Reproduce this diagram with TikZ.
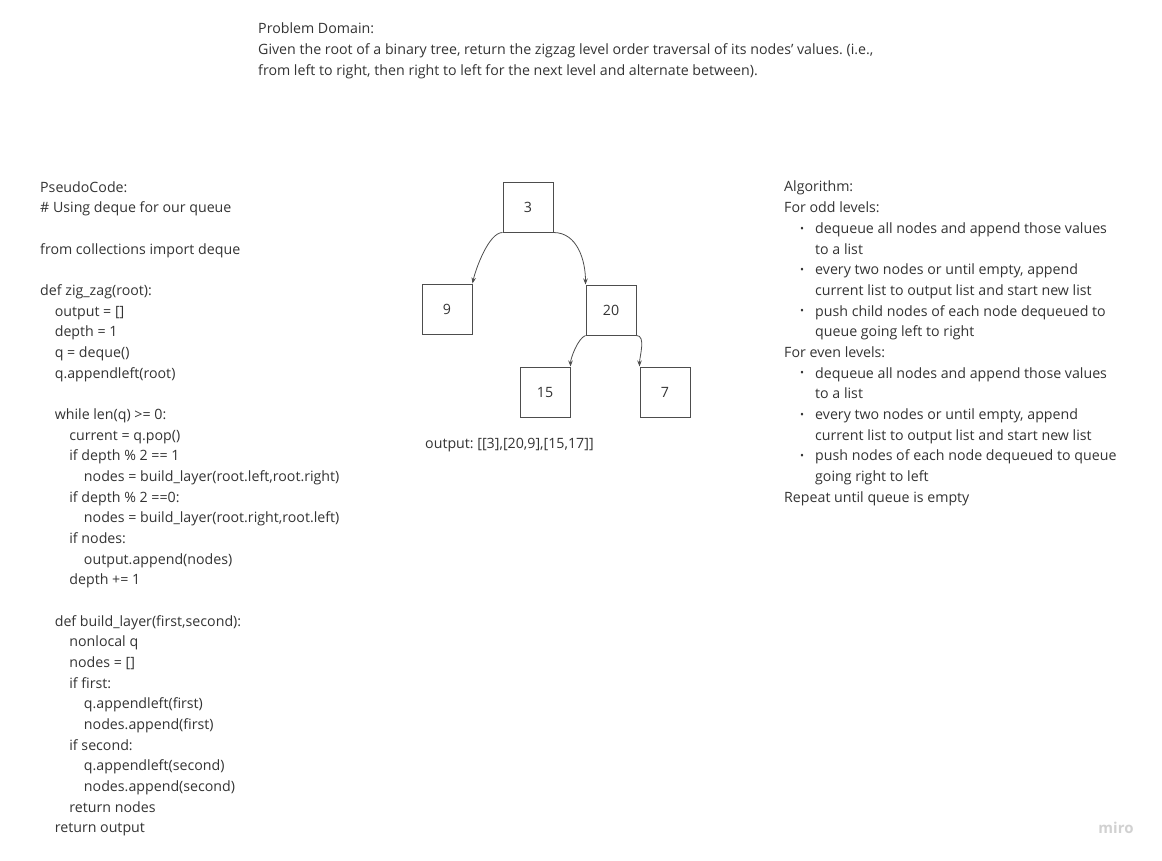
\documentclass[tikz,border=0pt]{standalone}
\usepackage{fontspec}
\setmainfont{Open Sans}
\usepackage{tikz}
\usetikzlibrary{arrows.meta, positioning}

\definecolor{inkgray}{HTML}{333333}
\definecolor{boxgray}{HTML}{4D4D4D}
\newcommand\indstep{\hspace*{14.6pt}}
\newcommand\bul{\hspace*{16pt}\makebox[15pt][l]{\raisebox{1.2pt}{\scalebox{0.75}{\textbullet}}}}
\newcommand\cont{\hspace*{31pt}}
\frenchspacing

\begin{document}
\begin{tikzpicture}[x=1pt,y=-1pt,node distance=1cm,
 txt/.style={anchor=north west, inner sep=0pt, align=left, text=inkgray,
  font=\fontsize{14.2}{20.67}\selectfont},
 tree node/.style={draw=boxgray, line width=1pt, minimum size=50pt, inner sep=0pt,
  text=inkgray, font=\fontsize{14.2}{17}\selectfont},
 link/.style={draw=boxgray, line width=0.8pt, -{Stealth[length=6pt,width=4.5pt]}}]
  \useasboundingbox (0,0) rectangle (1162,860);

  % problem statement
  \node[txt] (domain) at (258,22.7) {Problem Domain:\\
   Given the root of a binary tree, return the zigzag level order traversal of its nodes' values. (i.e.,\\
   from left to right, then right to left for the next level and alternate between).};

  % pseudo code
  \node[txt] (code) at (40,181) {PseudoCode:\\
   \# Using deque for our queue\\[20.67pt]
   from collections import deque\\[20.67pt]
   def zig\_zag(root):\\
   \indstep output = []\\
   \indstep depth = 1\\
   \indstep q = deque()\\
   \indstep q.appendleft(root)\\[20.67pt]
   \indstep while len(q) >= 0:\\
   \indstep\indstep current = q.pop()\\
   \indstep\indstep if depth \% 2 == 1\\
   \indstep\indstep\indstep nodes = build\_layer(root.left,root.right)\\
   \indstep\indstep if depth \% 2 ==0:\\
   \indstep\indstep\indstep nodes = build\_layer(root.right,root.left)\\
   \indstep\indstep if nodes:\\
   \indstep\indstep\indstep output.append(nodes)\\
   \indstep\indstep depth += 1\\[20.67pt]
   \indstep def build\_layer(first,second):\\
   \indstep\indstep nonlocal q\\
   \indstep\indstep nodes = []\\
   \indstep\indstep if first:\\
   \indstep\indstep\indstep q.appendleft(first)\\
   \indstep\indstep\indstep nodes.append(first)\\
   \indstep\indstep if second:\\
   \indstep\indstep\indstep q.appendleft(second)\\
   \indstep\indstep\indstep nodes.append(second)\\
   \indstep\indstep return nodes\\
   \indstep return output};

  % algorithm
  \node[txt] (algo) at (784,181) {Algorithm:\\
   For odd levels:\\
   \bul dequeue all nodes and append those values\\
   \cont to a list\\
   \bul every two nodes or until empty, append\\
   \cont current list to output list and start new list\\
   \bul push child nodes of each node dequeued to\\
   \cont queue going left to right\\
   For even levels:\\
   \bul dequeue all nodes and append those values\\
   \cont to a list\\
   \bul every two nodes or until empty, append\\
   \cont current list to output list and start new list\\
   \bul push nodes of each node dequeued to queue\\
   \cont going right to left\\
   Repeat until queue is empty};

  % tree
  \node[tree node] (n3) at (528,207) {3};
  \node[tree node] (n9) [below left=51pt and 30pt of n3] {9};
  \node[tree node] (n20) [below right=52pt and 32pt of n3] {20};
  \node[tree node] (n15) [below left=31pt and 15pt of n20] {15};
  \node[tree node] (n7) [below right=31pt and 3pt of n20] {7};

  \foreach \s/\t/\o/\i/\l in {n3.south west/n9.north east/180/78/0.6,
                              n3.south east/n20.north west/0/90/1,
                              n20.south west/n15.north east/200/90/0.6,
                              n20.south east/n7.north west/0/90/0.8} {
   \path[link] (\s) to[out=\o,in=\i,looseness=\l] (\t);}

  \node[txt, anchor=west] (result) at (425,445) {output: [[3],[20,9],[15,17]]};

  \node[text=black!18, font=\fontsize{15}{15}\selectfont\bfseries] (miro) at (1116,828) {miro};
\end{tikzpicture}
\end{document}
